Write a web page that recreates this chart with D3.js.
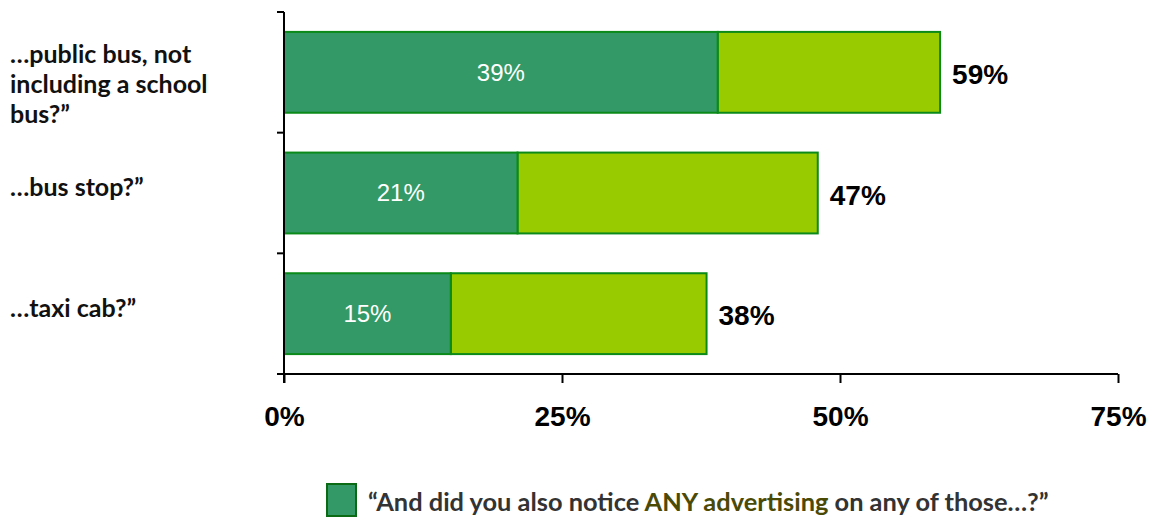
<!DOCTYPE html>
<html>
<head>
<meta charset="utf-8">
<script src="https://cdn.jsdelivr.net/npm/d3@7"></script>
<style>
  body { margin: 0; background: #fff; }
  svg { display: block; }
</style>
</head>
<body>
<svg id="chart" width="1157" height="518"></svg>
<script>
// data
var categories = [
  ["\u2026public bus, not", "including a school", "bus?\u201d"],
  ["\u2026bus stop?\u201d"],
  ["\u2026taxi cab?\u201d"]
];
var anyAdvertising = [39, 21, 15];   // dark segment
var totalNoticed = [59, 48, 38];     // full bar length as drawn
var totalLabels = [59, 47, 38];      // printed totals
var xTicks = [0, 25, 50, 75];

var svg = d3.select("#chart");

var x = d3.scaleLinear().domain([0, 75]).range([284, 1118]);
var y = d3.scaleBand().domain(d3.range(categories.length)).range([12, 374]).paddingInner(0.33).paddingOuter(0.165);

var dark = "#339966", light = "#99cc00", edge = "#0b8a1a";

// bars
var rows = svg.append("g").selectAll("g")
  .data(categories.map(function(c, i) {
    return { label: c, any: anyAdvertising[i], total: totalNoticed[i], shown: totalLabels[i], i: i };
  }))
  .join("g");

rows.append("rect")
  .attr("x", function(d) { return x(d.any); })
  .attr("y", function(d) { return y(d.i); })
  .attr("width", function(d) { return x(d.total) - x(d.any); })
  .attr("height", y.bandwidth())
  .attr("fill", light).attr("stroke", edge).attr("stroke-width", 2);

rows.append("rect")
  .attr("x", x(0))
  .attr("y", function(d) { return y(d.i); })
  .attr("width", function(d) { return x(d.any) - x(0); })
  .attr("height", y.bandwidth())
  .attr("fill", dark).attr("stroke", edge).attr("stroke-width", 2);

rows.append("text")
  .attr("x", function(d) { return (x(0) + x(d.any)) / 2; })
  .attr("y", function(d) { return y(d.i) + y.bandwidth() / 2; })
  .attr("dy", "0.35em")
  .attr("text-anchor", "middle")
  .attr("fill", "#fff")
  .style("font", "24px 'Liberation Sans', Arial, sans-serif")
  .text(function(d) { return d.any + "%"; });

rows.append("text")
  .attr("x", function(d) { return x(d.total) + 12; })
  .attr("y", function(d) { return y(d.i) + y.bandwidth() / 2 + 2; })
  .attr("dy", "0.35em")
  .attr("fill", "#000")
  .style("font", "bold 28px 'Liberation Sans', Arial, sans-serif")
  .text(function(d) { return d.shown + "%"; });

// category labels (multi-line block sits a little lower, as in the original)
rows.append("text")
  .attr("x", 10)
  .attr("y", function(d) {
    var n = d.label.length;
    return y(d.i) + y.bandwidth() / 2 + 3 - (n - 1) * 15 + (n > 1 ? 18 : 0);
  })
  .attr("dy", "0.35em")
  .attr("fill", "#111")
  .style("font", "bold 25px Lato, 'Open Sans', sans-serif")
  .selectAll("tspan")
  .data(function(d) { return d.label; })
  .join("tspan")
  .attr("x", 10)
  .attr("dy", function(d, j) { return j ? 30 : 0; })
  .text(function(d) { return d; });

// y axis line with category boundary ticks
var yEdges = [12].concat(d3.range(1, categories.length).map(function(i) {
  return (y(i - 1) + y.bandwidth() + y(i)) / 2;
}), [374]);
svg.append("line").attr("x1", x(0)).attr("x2", x(0)).attr("y1", 12).attr("y2", 383)
  .attr("stroke", "#000").attr("stroke-width", 2);
svg.append("g").selectAll("line").data(yEdges).join("line")
  .attr("x1", 277).attr("x2", x(0)).attr("y1", function(d) { return d; }).attr("y2", function(d) { return d; })
  .attr("stroke", "#000").attr("stroke-width", 2);

// x axis
var xAxis = svg.append("g")
  .attr("transform", "translate(0,374)")
  .call(d3.axisBottom(x).tickValues(xTicks).tickSize(9).tickPadding(23)
    .tickFormat(function(d) { return d + "%"; }));
xAxis.select(".domain").attr("stroke", "#000").attr("stroke-width", 2).attr("d", "M277,0H1118");
xAxis.selectAll(".tick line").attr("stroke", "#000").attr("stroke-width", 2);
xAxis.selectAll(".tick text")
  .attr("fill", "#000")
  .style("font", "bold 28px 'Liberation Sans Narrow', 'Arial Narrow', sans-serif");

// legend
var legend = svg.append("g");
legend.append("rect").attr("x", 327).attr("y", 484).attr("width", 29).attr("height", 32)
  .attr("fill", dark).attr("stroke", "#0a6b14").attr("stroke-width", 2);
var lt = legend.append("text").attr("x", 368).attr("y", 502).attr("dy", "0.35em")
  .attr("fill", "#333")
  .style("font", "bold 25.4px Lato, 'Open Sans', sans-serif");
lt.append("tspan").text("\u201cAnd did you also notice ");
lt.append("tspan").attr("fill", "#4a4a05").text("ANY advertising");
lt.append("tspan").text(" on any of those\u2026?\u201d");
</script>
</body>
</html>
